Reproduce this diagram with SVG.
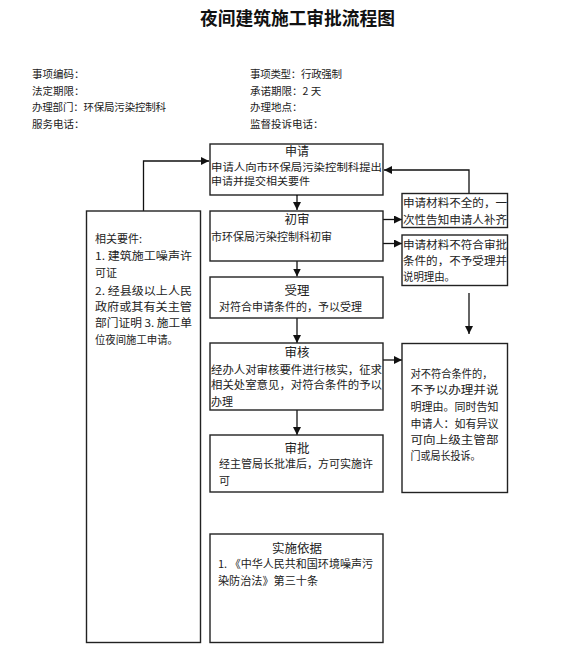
<svg xmlns="http://www.w3.org/2000/svg" width="563" height="646" viewBox="0 0 563 646">
<defs>
<style>
text{font-family:"Noto Sans CJK SC","Liberation Sans",sans-serif;fill:#222;}
.title{font-size:18px;font-weight:bold;fill:#111;}
.info{font-size:10.5px;}
.bt{font-size:12.5px;text-anchor:middle;}
.tx{font-size:11px;}
.box{fill:#fff;stroke:#222;stroke-width:1.4;}
.ln{fill:none;stroke:#111;stroke-width:1.3;}
</style>
<marker id="ah" viewBox="0 0 10 10" refX="10" refY="5" markerWidth="8" markerHeight="8" markerUnits="userSpaceOnUse" orient="auto">
<path d="M0,0 L10,5 L0,10 z" fill="#111"/>
</marker>
</defs>
<rect width="563" height="646" fill="#fff"/>
<text class="title" x="200" y="25" textLength="195" lengthAdjust="spacingAndGlyphs">夜间建筑施工审批流程图</text>
<g id="info">
<text class="info" x="32" y="78">事项编码：</text>
<text class="info" x="32" y="94.5">法定期限：</text>
<text class="info" x="32" y="111" textLength="134">办理部门：环保局污染控制科</text>
<text class="info" x="32" y="128">服务电话：</text>
<text class="info" x="250" y="78" textLength="92">事项类型：行政强制</text>
<text class="info" x="250" y="94.5">承诺期限：2 天</text>
<text class="info" x="250" y="111">办理地点：</text>
<text class="info" x="250" y="128">监督投诉电话：</text>
</g>
<g id="connectors">
<polyline class="ln" points="143.5,211 143.5,161 209,161" marker-end="url(#ah)"/>
<polyline class="ln" points="469,194 469,170 384,170" marker-end="url(#ah)"/>
<line class="ln" x1="297" y1="196" x2="297" y2="184" marker-end="url(#ah)"/>
<line class="ln" x1="297" y1="195" x2="297" y2="210" marker-end="url(#ah)"/>
<line class="ln" x1="383" y1="219.5" x2="402" y2="219.5" marker-end="url(#ah)"/>
<line class="ln" x1="383" y1="243.5" x2="402" y2="243.5" marker-end="url(#ah)"/>
<line class="ln" x1="297" y1="261" x2="297" y2="276.5" marker-end="url(#ah)"/>
<line class="ln" x1="297" y1="318" x2="297" y2="343" marker-end="url(#ah)"/>
<line class="ln" x1="469" y1="293" x2="469" y2="334" marker-end="url(#ah)"/>
<line class="ln" x1="383" y1="360" x2="402" y2="360" marker-end="url(#ah)"/>
<line class="ln" x1="297" y1="410" x2="297" y2="435" marker-end="url(#ah)"/>
</g>
<g id="n-apply">
<rect class="box" x="210" y="144" width="173" height="51"/>
<text class="bt" x="297" y="156" style="font-size:12px">申请</text>
<text class="tx" x="211" y="170.5" textLength="171" lengthAdjust="spacingAndGlyphs" style="font-size:10px">申请人向市环保局污染控制科提出</text>
<text class="tx" x="211" y="184.5" textLength="99" lengthAdjust="spacingAndGlyphs" style="font-size:10px">申请并提交相关要件</text>
</g>
<g id="n-first">
<rect class="box" x="210" y="211" width="173" height="50"/>
<text class="bt" x="297" y="223.5">初审</text>
<text class="tx" x="211" y="240.5" textLength="121">市环保局污染控制科初审</text>
</g>
<g id="n-accept">
<rect class="box" x="210" y="277" width="173" height="41"/>
<text class="bt" x="297" y="294.5">受理</text>
<text class="tx" x="219" y="310.5" textLength="143">对符合申请条件的，予以受理</text>
</g>
<g id="n-review">
<rect class="box" x="210" y="343" width="173" height="67"/>
<text class="bt" x="297" y="357">审核</text>
<text class="tx" x="211" y="374" textLength="171" lengthAdjust="spacingAndGlyphs">经办人对审核要件进行核实，征求</text>
<text class="tx" x="211" y="389" textLength="171" lengthAdjust="spacingAndGlyphs">相关处室意见，对符合条件的予以</text>
<text class="tx" x="211" y="406">办理</text>
</g>
<g id="n-approve">
<rect class="box" x="210" y="435" width="173" height="57"/>
<text class="bt" x="297" y="452.5">审批</text>
<text class="tx" x="219" y="468" textLength="154" lengthAdjust="spacingAndGlyphs">经主管局长批准后，方可实施许</text>
<text class="tx" x="219" y="485">可</text>
</g>
<g id="n-basis">
<rect class="box" x="210" y="534" width="173" height="108.5"/>
<text class="bt" x="297" y="552.5">实施依据</text>
<text class="tx" x="218" y="568" textLength="155" lengthAdjust="spacingAndGlyphs">1. 《中华人民共和国环境噪声污</text>
<text class="tx" x="218" y="585" textLength="100" lengthAdjust="spacingAndGlyphs">染防治法》第三十条</text>
</g>
<g id="n-docs">
<rect class="box" x="86.5" y="211" width="114" height="431.5"/>
<text class="tx" x="95" y="243">相关要件:</text>
<text class="tx" x="95" y="260" textLength="97" lengthAdjust="spacingAndGlyphs">1. 建筑施工噪声许</text>
<text class="tx" x="95" y="277">可证</text>
<text class="tx" x="95" y="295" textLength="97" lengthAdjust="spacingAndGlyphs">2. 经县级以上人民</text>
<text class="tx" x="95" y="311" textLength="97" lengthAdjust="spacingAndGlyphs">政府或其有关主管</text>
<text class="tx" x="95" y="327" textLength="97" lengthAdjust="spacingAndGlyphs">部门证明 3. 施工单</text>
<text class="tx" x="95" y="344" textLength="83" lengthAdjust="spacingAndGlyphs">位夜间施工申请。</text>
</g>
<g id="n-incomplete">
<rect class="box" x="402" y="193.5" width="105.5" height="34"/>
<text class="tx" x="403" y="207" textLength="104" lengthAdjust="spacingAndGlyphs">申请材料不全的，一</text>
<text class="tx" x="403" y="224" textLength="104" lengthAdjust="spacingAndGlyphs">次性告知申请人补齐</text>
</g>
<g id="n-reject">
<rect class="box" x="402" y="235" width="105.5" height="50.5"/>
<text class="tx" x="403" y="249" textLength="104" lengthAdjust="spacingAndGlyphs">申请材料不符合审批</text>
<text class="tx" x="403" y="265" textLength="104" lengthAdjust="spacingAndGlyphs">条件的，不予受理并</text>
<text class="tx" x="403" y="281" textLength="52" lengthAdjust="spacingAndGlyphs">说明理由。</text>
</g>
<g id="n-refuse">
<rect class="box" x="402" y="343.5" width="105.5" height="149"/>
<text class="tx" x="410.5" y="377.5" textLength="82" lengthAdjust="spacingAndGlyphs">对不符合条件的，</text>
<text class="tx" x="410.5" y="394" textLength="88" lengthAdjust="spacingAndGlyphs">不予以办理并说</text>
<text class="tx" x="410.5" y="411" textLength="88" lengthAdjust="spacingAndGlyphs">明理由。同时告知</text>
<text class="tx" x="410.5" y="427.5" textLength="88" lengthAdjust="spacingAndGlyphs">申请人：如有异议</text>
<text class="tx" x="410.5" y="444" textLength="88" lengthAdjust="spacingAndGlyphs">可向上级主管部</text>
<text class="tx" x="410.5" y="460" textLength="70" lengthAdjust="spacingAndGlyphs">门或局长投诉。</text>
</g>
</svg>
